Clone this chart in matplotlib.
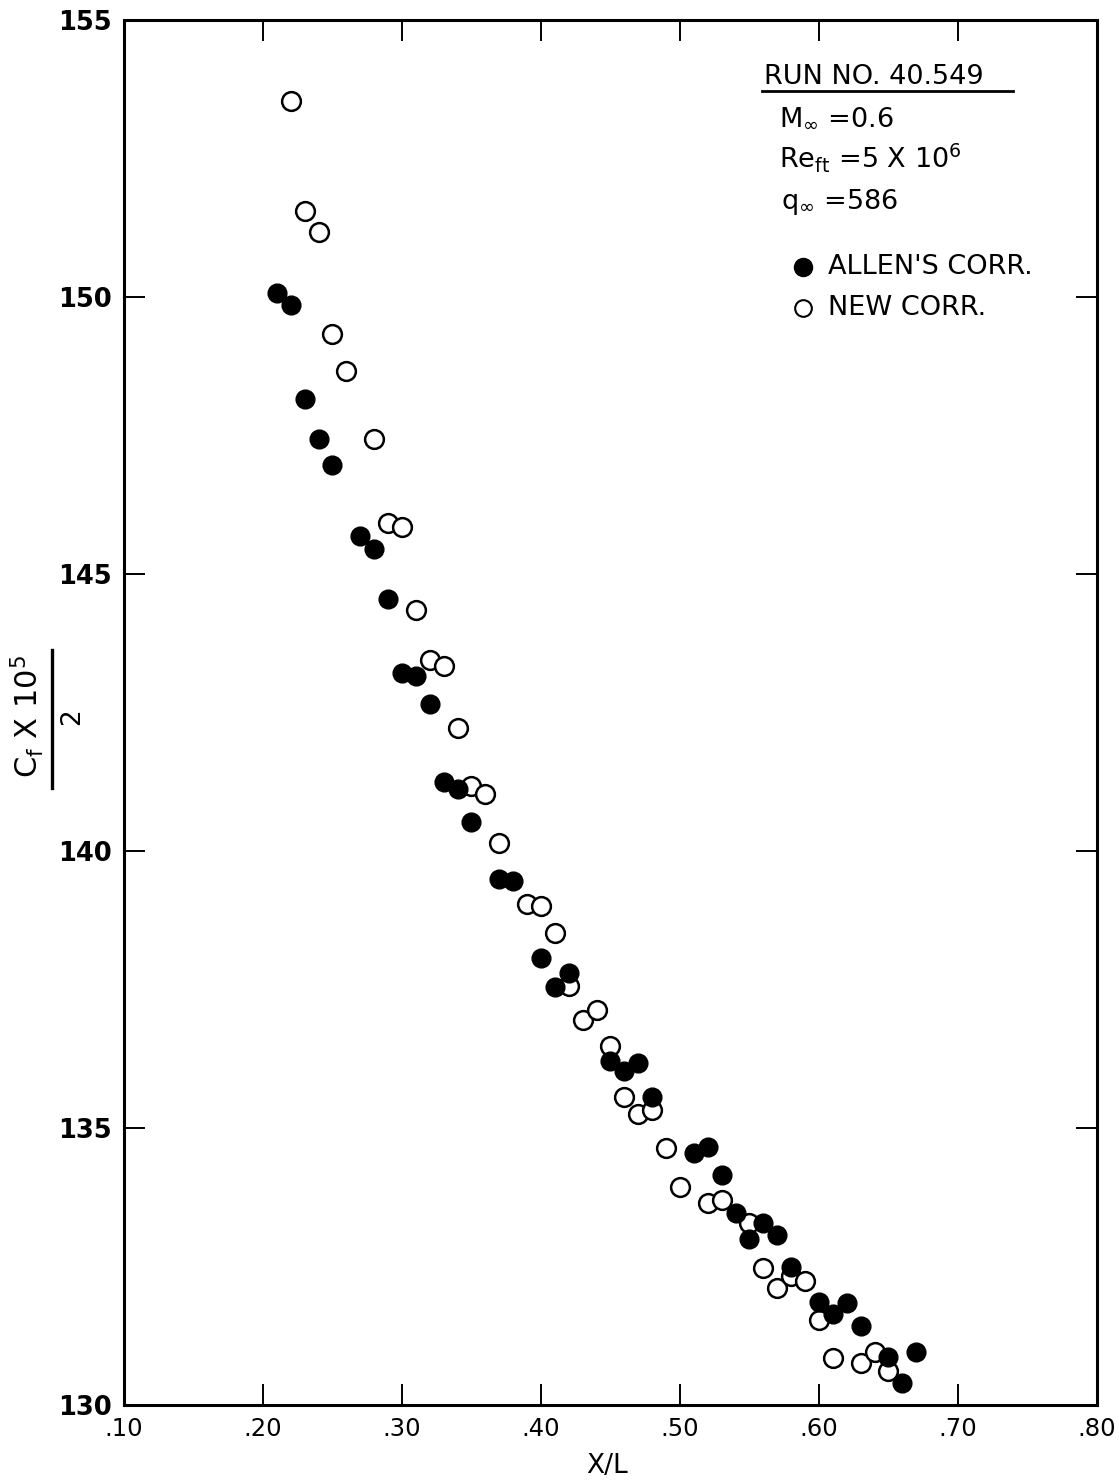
import matplotlib
matplotlib.use("Agg")
import matplotlib.pyplot as plt
from matplotlib.lines import Line2D

# ---- data ----
allen_x = [0.21, 0.22, 0.23, 0.24, 0.25, 0.27, 0.28, 0.29, 0.30, 0.31, 0.32, 0.33,
           0.34, 0.35, 0.37, 0.38, 0.40, 0.41, 0.42, 0.45, 0.46, 0.47, 0.48, 0.51,
           0.52, 0.53, 0.54, 0.55, 0.56, 0.57, 0.58, 0.60, 0.61, 0.62, 0.63, 0.65,
           0.66, 0.67]
allen_y = [150.07, 149.86, 148.16, 147.44, 146.97, 145.69, 145.45, 144.55, 143.21,
           143.16, 142.65, 141.25, 141.12, 140.52, 139.49, 139.46, 138.07, 137.55,
           137.80, 136.21, 136.03, 136.17, 135.56, 134.55, 134.66, 134.15, 133.47,
           133.00, 133.29, 133.07, 132.49, 131.86, 131.64, 131.84, 131.43, 130.87,
           130.40, 130.96]

new_x = [0.22, 0.23, 0.24, 0.25, 0.26, 0.28, 0.29, 0.30, 0.31, 0.32, 0.33, 0.34,
         0.35, 0.36, 0.37, 0.39, 0.40, 0.41, 0.42, 0.43, 0.44, 0.45, 0.46, 0.47,
         0.48, 0.49, 0.50, 0.52, 0.53, 0.55, 0.56, 0.57, 0.58, 0.59, 0.60, 0.61,
         0.63, 0.64, 0.65]
new_y = [153.54, 151.55, 151.17, 149.33, 148.66, 147.44, 145.92, 145.85, 144.35,
         143.45, 143.34, 142.22, 141.17, 141.03, 140.14, 139.04, 139.01, 138.52,
         137.56, 136.95, 137.13, 136.48, 135.56, 135.25, 135.32, 134.64, 133.94,
         133.65, 133.70, 133.29, 132.47, 132.11, 132.33, 132.24, 131.53, 130.85,
         130.76, 130.96, 130.61]

x_ticks = [0.10, 0.20, 0.30, 0.40, 0.50, 0.60, 0.70, 0.80]
x_labels = [".10", ".20", ".30", ".40", ".50", ".60", ".70", ".80"]
y_ticks = [130, 135, 140, 145, 150, 155]
y_labels = ["130", "135", "140", "145", "150", "155"]

W, H = 1119, 1481
fig = plt.figure(figsize=(W / 100, H / 100), dpi=100)
fig.patch.set_facecolor("white")

ax = fig.add_axes([124 / W, 1 - 1405 / H, (1097 - 124) / W, (1405 - 20) / H])
ax.set_xlim(0.10, 0.80)
ax.set_ylim(130, 155)

ms = 13.5
ax.plot(new_x, new_y, linestyle="none", marker="o", markersize=ms,
        markerfacecolor="white", markeredgecolor="black", markeredgewidth=1.8,
        zorder=3)
ax.plot(allen_x, allen_y, linestyle="none", marker="o", markersize=ms,
        markerfacecolor="black", markeredgecolor="black", markeredgewidth=1.0,
        zorder=4)

for s in ax.spines.values():
    s.set_linewidth(2.2)
    s.set_color("black")

ax.set_xticks(x_ticks)
ax.set_xticklabels(x_labels, fontsize=17.5, family="DejaVu Sans")
ax.set_yticks(y_ticks)
ax.set_yticklabels(y_labels, fontsize=18.5, family="DejaVu Sans", fontweight="bold")
ax.tick_params(axis="both", direction="in", length=15, width=1.4,
               top=True, right=True, color="black")
ax.tick_params(axis="x", pad=9)
ax.tick_params(axis="y", pad=9)

# x axis label
fig.text(607 / W, 1 - 1466 / H, "X/L", ha="center", va="center",
         fontsize=19, family="DejaVu Sans")

# y axis label as a fraction
fig.text(27 / W, 1 - 716 / H, r"C$_\mathregular{f}$ X 10$^\mathregular{5}$",
         rotation=90, ha="center", va="center", fontsize=22, family="DejaVu Sans")
fig.add_artist(Line2D([52 / W, 52 / W], [1 - 650 / H, 1 - 788 / H],
                      transform=fig.transFigure, color="black", linewidth=2.4))
fig.text(72 / W, 1 - 717 / H, "2", rotation=90, ha="center", va="center",
         fontsize=19, family="DejaVu Sans")

# annotation block
fs = 19.5
fig.text(764 / W, 1 - 77 / H, "RUN NO. 40.549", ha="left", va="center",
         fontsize=fs, family="DejaVu Sans")
fig.add_artist(Line2D([762 / W, 1013 / W], [1 - 91 / H, 1 - 91 / H],
                      transform=fig.transFigure, color="black", linewidth=2.0))
fig.text(779 / W, 1 - 118 / H, r"M$_{\infty}$ =0.6", ha="left", va="center",
         fontsize=fs, family="DejaVu Sans")
fig.text(779 / W, 1 - 158 / H, r"Re$_\mathregular{ft}$ =5 X 10$^\mathregular{6}$",
         ha="left", va="center", fontsize=fs, family="DejaVu Sans")
fig.text(781 / W, 1 - 202 / H, r"q$_{\infty}$ =586", ha="left", va="center",
         fontsize=fs, family="DejaVu Sans")

# legend
fig.add_artist(Line2D([803 / W], [1 - 267 / H], transform=fig.transFigure,
                      marker="o", markersize=13, markerfacecolor="black",
                      markeredgecolor="black", linestyle="none"))
fig.text(828 / W, 1 - 267 / H, "ALLEN'S CORR.", ha="left", va="center",
         fontsize=fs, family="DejaVu Sans")
fig.add_artist(Line2D([803 / W], [1 - 308 / H], transform=fig.transFigure,
                      marker="o", markersize=12, markerfacecolor="white",
                      markeredgecolor="black", markeredgewidth=1.5, linestyle="none"))
fig.text(828 / W, 1 - 308 / H, "NEW CORR.", ha="left", va="center",
         fontsize=fs, family="DejaVu Sans")

fig.savefig("out.png", dpi=100, facecolor="white")
